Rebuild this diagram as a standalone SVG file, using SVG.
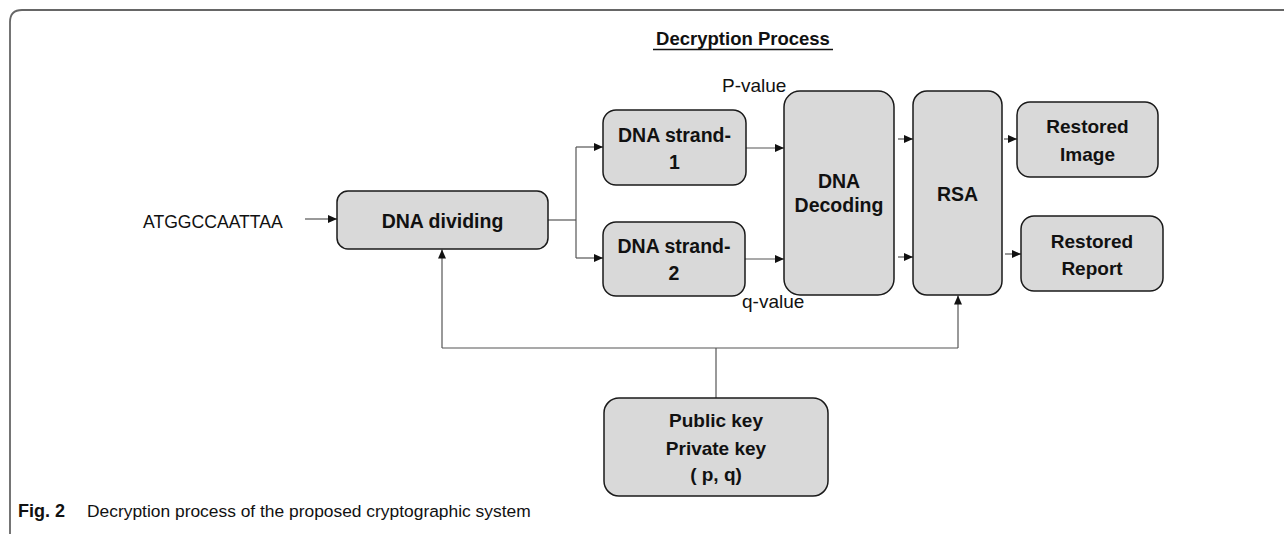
<svg xmlns="http://www.w3.org/2000/svg" width="1284" height="534" viewBox="0 0 1284 534">
<style>
.box{fill:#d9d9d9;stroke:#1a1a1a;stroke-width:1.5}
.bt{font-family:"Liberation Sans",Arial,sans-serif;font-weight:bold;font-size:19.5px;fill:#111;text-anchor:middle}
.rt{font-family:"Liberation Sans",Arial,sans-serif;font-size:18px;fill:#111}
.cn{fill:none;stroke:#555;stroke-width:1.2}
.frame{fill:none;stroke:#666;stroke-width:1.8}
</style>
<defs>
<marker id="ah" markerUnits="userSpaceOnUse" markerWidth="10" markerHeight="9" refX="9" refY="4" orient="auto">
<path d="M0,0 L9,4 L0,8 z" fill="#111"/>
</marker>
</defs>
<rect width="1284" height="534" fill="#fff"/>
<path class="frame" d="M10,540 V22 Q10,10 22,10 H1290"/>
<g id="title">
<text x="743" y="45" class="bt" style="font-size:18.5px">Decryption Process</text>
<line x1="653" y1="49.5" x2="833" y2="49.5" stroke="#111" stroke-width="1.3"/>
</g>
<g id="connectors">
<path class="cn" d="M305,219 H337" marker-end="url(#ah)"/>
<path class="cn" d="M548,220 H576"/>
<path class="cn" d="M576,147 V258"/>
<path class="cn" d="M576,147 H603" marker-end="url(#ah)"/>
<path class="cn" d="M576,258 H603" marker-end="url(#ah)"/>
<path class="cn" d="M746,148 H784" marker-end="url(#ah)"/>
<path class="cn" d="M745,259 H784" marker-end="url(#ah)"/>
<path class="cn" d="M898,139 H913" marker-end="url(#ah)"/>
<path class="cn" d="M898,257 H913" marker-end="url(#ah)"/>
<path class="cn" d="M1004,139 H1017" marker-end="url(#ah)"/>
<path class="cn" d="M1005,254 H1021" marker-end="url(#ah)"/>
<path class="cn" d="M716,398 V348"/>
<path class="cn" d="M442,348 H958"/>
<path class="cn" d="M442,348 V249.5" marker-end="url(#ah)"/>
<path class="cn" d="M958,348 V295.5" marker-end="url(#ah)"/>
</g>
<g id="input">
<text x="143" y="228" class="rt" style="font-size:17.6px">ATGGCCAATTAA</text>
</g>
<g id="dna-dividing">
<rect class="box" x="337" y="191" width="211" height="58" rx="11"/>
<text x="442.5" y="228" class="bt">DNA dividing</text>
</g>
<g id="dna-strand-1">
<rect class="box" x="603" y="110" width="143" height="75" rx="13"/>
<text x="674.5" y="142" class="bt">DNA strand-</text>
<text x="674.5" y="169" class="bt">1</text>
</g>
<g id="dna-strand-2">
<rect class="box" x="603" y="222" width="142" height="74" rx="13"/>
<text x="674" y="253" class="bt">DNA strand-</text>
<text x="674" y="280" class="bt">2</text>
</g>
<g id="p-value">
<text x="722" y="92" class="rt" style="font-size:19px">P-value</text>
</g>
<g id="q-value">
<text x="742" y="308" class="rt" style="font-size:19px">q-value</text>
</g>
<g id="dna-decoding">
<rect class="box" x="784" y="91" width="110" height="204" rx="16"/>
<text x="839" y="188" class="bt">DNA</text>
<text x="839" y="212" class="bt">Decoding</text>
</g>
<g id="rsa">
<rect class="box" x="913" y="91" width="89" height="204" rx="14"/>
<text x="957.5" y="201" class="bt">RSA</text>
</g>
<g id="restored-image">
<rect class="box" x="1017" y="102" width="141" height="75" rx="13"/>
<text x="1087.5" y="133" class="bt" style="font-size:19px">Restored</text>
<text x="1087.5" y="161" class="bt" style="font-size:19px">Image</text>
</g>
<g id="restored-report">
<rect class="box" x="1021" y="216" width="142" height="75" rx="13"/>
<text x="1092" y="248" class="bt" style="font-size:19px">Restored</text>
<text x="1092" y="275" class="bt" style="font-size:19px">Report</text>
</g>
<g id="keys">
<rect class="box" x="604" y="398" width="224" height="98" rx="15"/>
<text x="716" y="427" class="bt" style="font-size:19px">Public key</text>
<text x="716" y="455" class="bt" style="font-size:19px">Private key</text>
<text x="716" y="481" class="bt" style="font-size:19px">( p, q)</text>
</g>
<g id="caption">
<text x="18" y="517" style="font-family:'Liberation Sans',Arial,sans-serif;font-size:17.4px;fill:#111"><tspan font-weight="bold" font-size="18px">Fig. 2</tspan><tspan x="87">Decryption process of the proposed cryptographic system</tspan></text>
</g>
</svg>
